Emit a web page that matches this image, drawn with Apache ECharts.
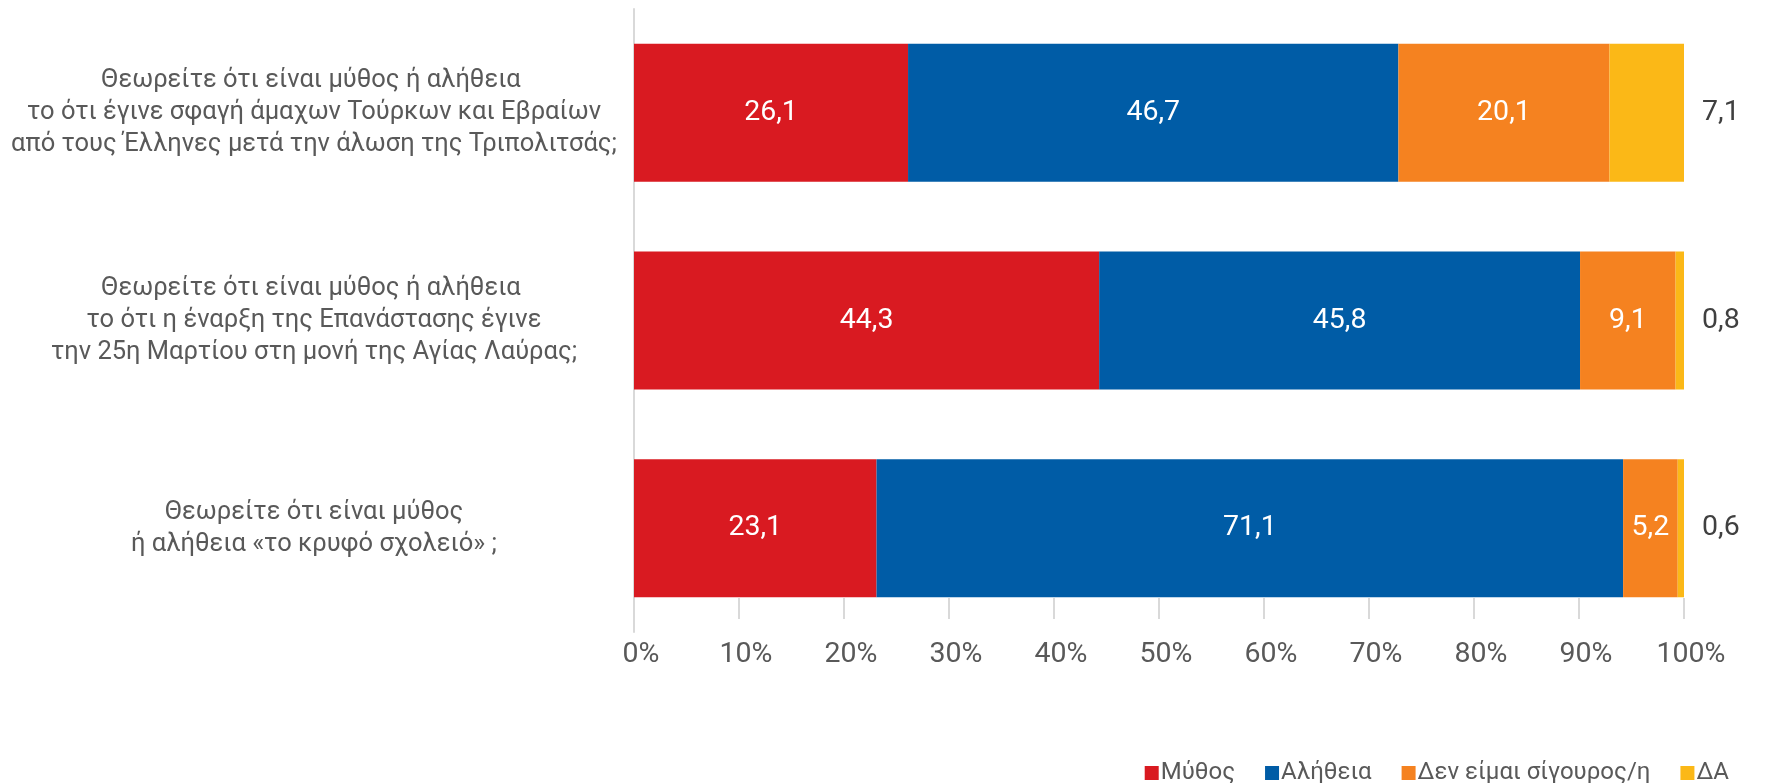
<!DOCTYPE html>
<html>
<head>
<meta charset="utf-8">
<script src="https://cdn.jsdelivr.net/npm/echarts@6/dist/echarts.min.js"></script>
<style>
html,body{margin:0;padding:0;background:#fff;}
#chart{width:1765px;height:783px;}
</style>
</head>
<body>
<div id="chart"></div>
<script>
const categories = [
  "Θεωρείτε ότι είναι μύθος ή αλήθεια \nτο ότι έγινε σφαγή άμαχων Τούρκων και Εβραίων\nαπό τους Έλληνες μετά την άλωση της Τριπολιτσάς;",
  "Θεωρείτε ότι είναι μύθος ή αλήθεια \nτο ότι η έναρξη της Επανάστασης έγινε\nτην 25η Μαρτίου στη μονή της Αγίας Λαύρας;",
  "Θεωρείτε ότι είναι μύθος\nή αλήθεια «το κρυφό σχολειό» ;"
];
const seriesNames = ["Μύθος", "Αλήθεια", "Δεν είμαι σίγουρος/η", "ΔΑ"];
const mythos = [26.1, 44.3, 23.1];
const aletheia = [46.7, 45.8, 71.1];
const notSure = [20.1, 9.1, 5.2];
const da = [7.1, 0.8, 0.6];
const xTicks = [0, 10, 20, 30, 40, 50, 60, 70, 80, 90, 100];
const colors = ["#D91A21", "#005CA6", "#F58220", "#FBB817"];

const fmt = v => String(v.value).replace('.', ',');
const FONT = 'Roboto';

function inside(name, data, color) {
  return {
    name: name, type: 'bar', stack: 'total', data: data, barWidth: 138,
    itemStyle: { color: color },
    label: { show: true, position: 'inside', color: '#ffffff', fontSize: 28.5, fontFamily: FONT, formatter: fmt },
    emphasis: { disabled: true }
  };
}

const chart = echarts.init(document.getElementById('chart'), null, { renderer: 'canvas' });
chart.setOption({
  animation: false,
  textStyle: { fontFamily: FONT },
  grid: { left: 634, right: 81, top: 9, bottom: 151, containLabel: false },
  legend: {
    data: seriesNames,
    right: 31, top: 756,
    itemWidth: 14, itemHeight: 14, itemGap: 30,
    icon: 'rect',
    textStyle: { fontSize: 24, color: '#595959', fontFamily: FONT, padding: [0, 0, 0, -3] }
  },
  xAxis: {
    type: 'value', min: xTicks[0], max: xTicks[xTicks.length - 1], interval: 10,
    offset: -13,
    axisLine: { show: false },
    axisTick: { show: true, inside: true, length: 21, lineStyle: { color: '#d9d9d9', width: 2 } },
    splitLine: { show: false },
    axisLabel: { fontSize: 28.5, color: '#595959', margin: 21, fontFamily: FONT, padding: [0, 0, 0, 14],
      formatter: v => v + '%' }
  },
  yAxis: {
    type: 'category', data: categories, inverse: true,
    axisLine: { show: true, lineStyle: { color: '#d9d9d9', width: 2 } },
    axisTick: { show: false },
    axisLabel: { fontSize: 25.5, color: '#595959', lineHeight: 32, align: 'center', margin: 320, fontFamily: FONT }
  },
  series: [
    inside(seriesNames[0], mythos, colors[0]),
    inside(seriesNames[1], aletheia, colors[1]),
    inside(seriesNames[2], notSure, colors[2]),
    {
      name: seriesNames[3], type: 'bar', stack: 'total', data: da, barWidth: 138,
      itemStyle: { color: colors[3] },
      label: { show: true, position: 'right', distance: 18, color: '#404040', fontSize: 28.5, fontFamily: FONT, formatter: fmt },
      emphasis: { disabled: true }
    }
  ]
});
</script>
</body>
</html>
